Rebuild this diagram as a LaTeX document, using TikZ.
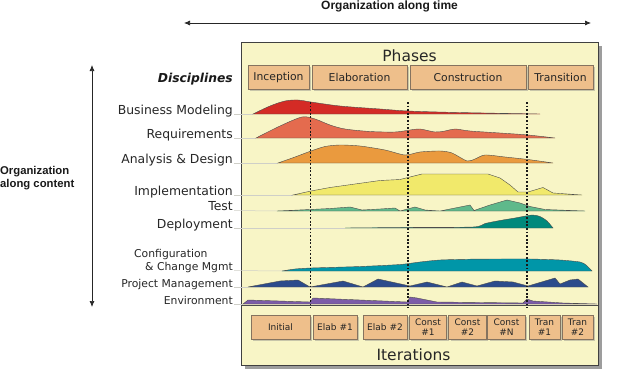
\documentclass[tikz,border=0pt]{standalone}
\usepackage{fontspec}
\setmainfont{DejaVu Sans}
\newfontfamily\arialfont{Liberation Sans}
\usetikzlibrary{arrows.meta,shadows}

\definecolor{panelfill}{HTML}{F8F5C6}
\definecolor{boxfill}{HTML}{EEBF8B}
\definecolor{boxline}{HTML}{85735F}
\definecolor{bmcol}{HTML}{D42B25}
\definecolor{reqcol}{HTML}{E46B4E}
\definecolor{adcol}{HTML}{EA9A3E}
\definecolor{impcol}{HTML}{F1E96B}
\definecolor{testcol}{HTML}{5FB98B}
\definecolor{depcol}{HTML}{00897C}
\definecolor{cfgcol}{HTML}{0096A8}
\definecolor{pmcol}{HTML}{2C4B8C}
\definecolor{envcol}{HTML}{7C5CA8}
\definecolor{guidecol}{HTML}{CFCFC8}

\tikzset{
  panelbox/.style={draw=black!75, line width=0.8pt, fill=panelfill,
    drop shadow={shadow xshift=4pt, shadow yshift=-4pt, opacity=0.55, fill=black!70}},
  phasebox/.style={draw=boxline, line width=0.6pt, fill=boxfill, inner sep=1pt,
    minimum height=24pt, font=\fontsize{10.8}{12}\selectfont, text=black!85,
    drop shadow={shadow xshift=1.8pt, shadow yshift=-1.8pt, opacity=0.4}},
  iterbox/.style={phasebox, align=center, font=\fontsize{9}{10}\selectfont},
  disc/.style={anchor=base east, inner sep=0pt, text=black!85, font=\fontsize{12.4}{14}\selectfont},
  discs/.style={anchor=base east, inner sep=0pt, text=black!85, font=\fontsize{10.8}{12}\selectfont},
  hump/.style={draw=black!70, line width=0.4pt},
  dotline/.style={black!90, line width=1.8pt, dash pattern=on 1.7pt off 1.9pt},
  guide/.style={guidecol, line width=0.5pt},
  axis/.style={black!85, line width=0.7pt, {Latex[length=6pt,width=5pt]}-{Latex[length=6pt,width=5pt]}},
  orglabel/.style={inner sep=0pt, text=black!90, font=\arialfont\bfseries\fontsize{11.3}{13.5}\selectfont}
}

\begin{document}
\begin{tikzpicture}[x=1pt,y=-1pt]
\useasboundingbox (0,0) rectangle (644,388);

% axes and their labels
\node[orglabel, anchor=base, font=\arialfont\bfseries\fontsize{12}{14}\selectfont] (timelbl) at (389.5,9.5) {Organization along time};
\coordinate (tl) at (184,23);
\coordinate (tr) at (591,23);
\draw[axis] (tl) -- (tr);
\node[orglabel, anchor=north west, align=left] (contlbl) at (0,166) {Organization\\along content};
\coordinate (vt) at (92,65);
\coordinate (vb) at (92,307);
\draw[axis] (vt) -- (vb);

% panel
\node[panelbox, minimum width=357pt, minimum height=323pt, inner sep=0pt] (panel) at (419.5,203.5) {};
\coordinate (sepl) at (241,305.5);
\coordinate (sepr) at (598,305.5);
\draw[black!70, line width=0.7pt] (sepl) -- (sepr);

\node[inner sep=0pt, anchor=base, font=\fontsize{15.5}{18}\selectfont, text=black!85] (phases) at (409.5,61) {Phases};
\node[inner sep=0pt, anchor=base, font=\fontsize{15.5}{18}\selectfont, text=black!85] (iters) at (413.5,360) {Iterations};

% phase boxes
\node[phasebox, minimum width=61pt] (inc) at (278.5,77.5) {Inception};
\node[phasebox, minimum width=95pt] (ela) at (359.5,77.5) {Elaboration};
\node[phasebox, minimum width=116pt] (con) at (468,77.5) {Construction};
\node[phasebox, minimum width=65pt] (tra) at (560.5,77.5) {Transition};

% iteration boxes
\node[iterbox, minimum width=59pt] (it1) at (280.5,327) {Initial};
\node[iterbox, minimum width=44pt] (it2) at (335,327) {Elab \#1};
\node[iterbox, minimum width=44pt] (it3) at (385,327) {Elab \#2};
\node[iterbox, minimum width=37.5pt] (it4) at (428,327) {Const\\\#1};
\node[iterbox, minimum width=37.5pt] (it5) at (467.5,327) {Const\\\#2};
\node[iterbox, minimum width=37.5pt] (it6) at (506.5,327) {Const\\\#N};
\node[iterbox, minimum width=31pt] (it7) at (544.5,327) {Tran\\\#1};
\node[iterbox, minimum width=31pt] (it8) at (577.5,327) {Tran\\\#2};

% discipline labels
\node[anchor=base east, inner sep=0pt, text=black!90, font=\bfseries\itshape\fontsize{12.3}{14}\selectfont] (disc) at (233,82.5) {Disciplines};
\node[disc] (lbm) at (233,114) {Business Modeling};
\node[disc] (lreq) at (233,138) {Requirements};
\node[disc] (lad) at (233,163) {Analysis \& Design};
\node[disc] (limp) at (233,195) {Implementation};
\node[disc] (ltest) at (233,210.5) {Test};
\node[disc] (ldep) at (233,228) {Deployment};
\node[discs, anchor=base west] (lcfg1) at (134,257) {Configuration};
\node[discs] (lcfg2) at (233,270.5) {\& Change Mgmt};
\node[discs] (lpm) at (233,287) {Project Management};
\node[discs] (lenv) at (233,304) {Environment};

% guide lines from labels to humps
\coordinate (gbm) at (253,114);
\coordinate (greq) at (256,138);
\coordinate (gad) at (278,163);
\coordinate (gimp) at (293,195);
\coordinate (gtest) at (277,211);
\coordinate (gdep) at (345,228);
\coordinate (gcfg) at (282,271);
\coordinate (gpm) at (248,287);
\coordinate (genv) at (243,304);
\draw[guide] (lbm.base east) ++(1,0) -- (gbm);
\draw[guide] (lreq.base east) ++(1,0) -- (greq);
\draw[guide] (lad.base east) ++(1,0) -- (gad);
\draw[guide] (limp.base east) ++(1,0) -- (gimp);
\draw[guide] (ltest.base east) ++(1,0) -- (gtest);
\draw[guide] (ldep.base east) ++(1,0) -- (gdep);
\draw[guide] (lcfg2.base east) ++(1,0) -- (gcfg);
\draw[guide] (lpm.base east) ++(1,0) -- (gpm);
\draw[guide] (lenv.base east) ++(1,0) -- (genv);

% humps
\filldraw[hump, fill=bmcol] plot[smooth, tension=0.55] coordinates {(253,114) (270,106) (285,101) (298,100) (311,102) (340,106) (380,109) (408,111) (450,112.3) (500,113.3) (540,114)} -- cycle;
\filldraw[hump, fill=reqcol] plot[smooth, tension=0.5] coordinates {(256,138) (280,126) (302,117) (315,119) (330,125) (345,129) (370,131.5) (395,132) (410,130) (420,129) (435,132) (445,131) (455,129) (470,131) (500,133) (528,135) (555,138)} -- cycle;
\filldraw[hump, fill=adcol] plot[smooth, tension=0.45] coordinates {(278,163) (295,157) (311,151) (325,146.5) (340,145) (360,146) (385,150) (405,155) (420,152) (440,151) (452,153) (467,161) (475,159) (485,155) (505,157) (528,159.5) (553,163)} -- cycle;
\filldraw[hump, fill=impcol] plot coordinates {(293,195) (311,191) (330,187.5) (355,184) (380,180.5) (400,179.5) (408,177.5) (422,174) (488,174) (500,178) (510,185) (518,192) (528,192) (543,187.5) (553,193) (582,195)} -- cycle;
\filldraw[hump, fill=testcol] plot coordinates {(277,211) (310,209.5) (330,208.5) (350,207) (362,210) (380,209) (395,208) (400,211) (415,207) (425,210) (440,211) (455,208) (470,205) (474,210.5) (490,205) (507,200) (520,203) (530,206.5) (545,209.5) (585,211)} -- cycle;
\filldraw[hump, fill=depcol] plot[smooth, tension=0.4] coordinates {(345,228) (400,227.5) (473,227) (485,223.5) (500,220.5) (515,218) (532,215) (540,216.5) (547,221) (553,228)} -- cycle;
\filldraw[hump, fill=cfgcol] plot[smooth, tension=0.4] coordinates {(282,271) (295,269) (311,268) (360,266.5) (400,264.5) (420,262) (440,260) (470,259.2) (500,259) (530,259) (560,260) (580,262) (586,265) (592,271)} -- cycle;
\filldraw[hump, fill=pmcol] plot coordinates {(248,287) (280,281) (298,280) (310,287) (343,281) (363,287) (378,279) (410,286) (427,282) (447,287) (462,282) (477,286) (495,281) (513,282) (528,286) (555,278) (560,284) (570,280) (578,279) (588,287)} -- cycle;
\filldraw[hump, fill=envcol] plot coordinates {(243,304) (248,300) (310,302) (313,298) (407,302) (410,297) (417,298) (437,302) (523,303) (527,299) (533,301) (563,303) (597,304)} -- cycle;

% phase boundaries
\coordinate (d1t) at (310.5,102);
\coordinate (d1b) at (310.5,308);
\coordinate (d2t) at (408,102);
\coordinate (d2b) at (408,308);
\coordinate (d3t) at (527,102);
\coordinate (d3b) at (527,308);
\draw[dotline] (d1t) -- (d1b);
\draw[dotline] (d2t) -- (d2b);
\draw[dotline] (d3t) -- (d3b);
\end{tikzpicture}
\end{document}
